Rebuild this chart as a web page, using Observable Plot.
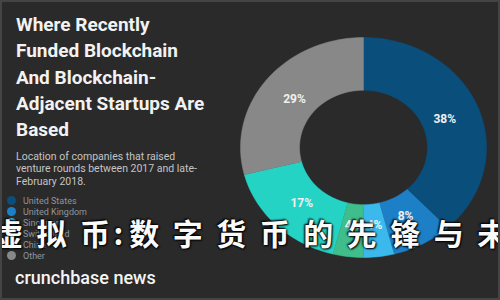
<!DOCTYPE html>
<html><head><meta charset="utf-8">
<script src="https://cdn.jsdelivr.net/npm/d3@7"></script>
<script src="https://cdn.jsdelivr.net/npm/@observablehq/plot@0.6"></script>
<style>
html,body{margin:0;padding:0;background:#2a2a2a;}
#wrap{position:relative;width:500px;height:300px;overflow:hidden;background:#2a2a2a;font-family:Roboto,"Noto Sans",sans-serif;}
#wrap svg{position:absolute;left:0;top:0;}
.title{position:absolute;left:16px;top:12px;color:#f2f2f2;font:700 19px/26.3px Roboto,sans-serif;}
.sub{position:absolute;left:16px;top:151px;color:#c4c4c4;font:400 10.5px/12.3px Roboto,sans-serif;}
.legend{position:absolute;left:7px;top:196px;}
.legend div{height:11px;font:400 9px/11px Roboto,sans-serif;color:#8a96a0;white-space:nowrap;}
.legend span{display:inline-block;width:9px;height:9px;border-radius:50%;vertical-align:-1px;margin-right:7px;}
.brand{position:absolute;left:15px;bottom:11px;height:22px;color:#f4f4f4;font-family:Roboto,sans-serif;font-weight:500;font-size:18px;line-height:22px;white-space:nowrap;}
.cn{position:absolute;left:-7px;top:216px;color:#fafafa;font-family:"Noto Sans CJK SC",sans-serif;font-weight:700;font-size:30px;line-height:32px;letter-spacing:13.5px;white-space:nowrap;text-shadow:0 0 2px #000,1px 1px 2px #000,-1px -1px 2px #000;}
.cn .colon{margin-left:-10px;letter-spacing:6px;}
.frame{position:absolute;left:0;top:0;width:496px;height:296px;border:2px solid #444;}
</style></head><body><div id="wrap"></div>
<script>
const countries = ["United States","United Kingdom","Singapore","Switzerland","China","Other"];
const shares = [38, 8, 4, 4, 17, 29];
const colors = ["#0a4e7c","#1d80c6","#3cb9ec","#3fbd8b","#25d3c5","#888888"];
const titleLines = ["Where Recently","Funded Blockchain","And Blockchain-","Adjacent Startups Are","Based"];
const subtitleLines = ["Location of companies that raised","venture rounds between 2017 and late-","February 2018."];
const brand = "crunchbase news";
const overlayHead = "虚拟币";
const overlaySep = ":";
const overlayTail = "数字货币的先锋与未来";

const inner = 0.52, labelR = 0.71;
const total = d3.sum(shares);
const ring = [], labels = [];
let acc = 0;
shares.forEach((v, i) => {
  const a0 = acc / total * 2 * Math.PI, a1 = (acc + v) / total * 2 * Math.PI;
  acc += v;
  const n = Math.max(3, Math.ceil(v * 1.5));
  for (let k = 0; k <= n; k++) { const a = a0 + (a1 - a0) * k / n; ring.push({c: countries[i], x: Math.sin(a), y: -Math.cos(a)}); }
  for (let k = n; k >= 0; k--) { const a = a0 + (a1 - a0) * k / n; ring.push({c: countries[i], x: inner * Math.sin(a), y: -inner * Math.cos(a)}); }
  const m = (a0 + a1) / 2;
  labels.push({t: v + "%", x: labelR * Math.sin(m), y: -labelR * Math.cos(m)});
});

const chart = Plot.plot({
  width: 500, height: 300, margin: 0,
  style: {background: "transparent", overflow: "visible"},
  x: {domain: [-1, 1], range: [240, 486], axis: null},
  y: {domain: [-1, 1], range: [37, 257], axis: null},
  color: {domain: countries, range: colors},
  marks: [
    Plot.line(ring, {x: "x", y: "y", z: "c", fill: "c", stroke: "c", strokeWidth: 0.5}),
    Plot.text(labels, {x: "x", y: "y", text: "t", fill: "#f0f0f0", fontSize: 12, fontWeight: 700, fontFamily: "Roboto"})
  ]
});

const wrap = document.getElementById("wrap");
wrap.appendChild(chart);
const t = document.createElement("div"); t.className = "title"; t.innerHTML = titleLines.join("<br>"); wrap.appendChild(t);
const s = document.createElement("div"); s.className = "sub"; s.innerHTML = subtitleLines.join("<br>"); wrap.appendChild(s);
const lg = document.createElement("div"); lg.className = "legend";
countries.forEach((c, i) => { const r = document.createElement("div"); r.innerHTML = `<span style="background:${colors[i]}"></span>${c}`; lg.appendChild(r); });
wrap.appendChild(lg);
const b = document.createElement("div"); b.className = "brand"; b.textContent = brand; wrap.appendChild(b);
const cn = document.createElement("div"); cn.className = "cn";
cn.innerHTML = `${overlayHead}<span class="colon">${overlaySep}</span>${overlayTail}`;
wrap.appendChild(cn);
const f = document.createElement("div"); f.className = "frame"; wrap.appendChild(f);
</script></body></html>
